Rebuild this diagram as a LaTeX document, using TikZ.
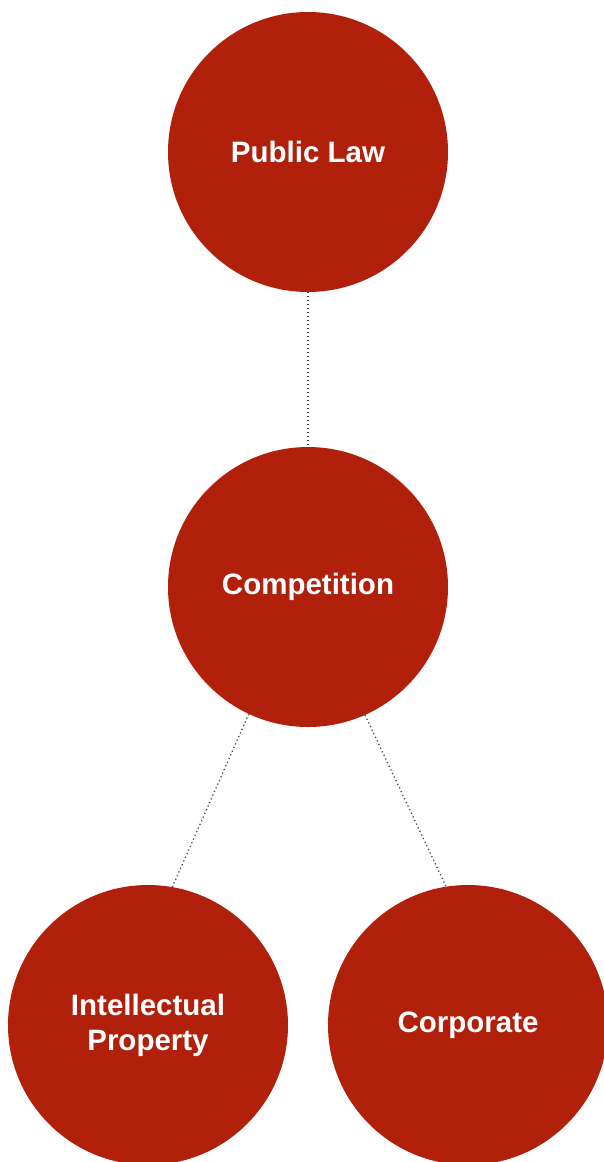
\documentclass[tikz,border=0pt]{standalone}
\usepackage{fontspec}
\setmainfont{Liberation Sans}
\definecolor{lawred}{RGB}{176,32,10}
\definecolor{dotgray}{RGB}{70,70,70}
\begin{document}
\begin{tikzpicture}[x=1pt,y=-1pt,
  topic/.style={circle,fill=lawred,minimum size=280pt,inner sep=0pt,text=white,
    font=\fontsize{29.5}{35}\selectfont\bfseries,align=center},
  link/.style={draw=dotgray,line width=1.3pt,dash pattern=on 1.2pt off 2.8pt}]
\useasboundingbox (0,0) rectangle (604,1162);
\fill[white] (0,0) rectangle (604,1162);
\node[topic] (pl) at (308,152) {Public Law};
\node[topic] (comp) at (308,587) {\raisebox{-2pt}{Competition}};
\node[topic] (ip) at (148,1025) {Intellectual\\Property};
\node[topic] (corp) at (468,1025) {\raisebox{-2pt}{Corporate}};
\draw[link] (pl.270) -- (comp.90);
\draw[link] (comp.245.4) -- (ip.80.4);
\draw[link] (comp.294.6) -- (corp.99.6);
\end{tikzpicture}
\end{document}
